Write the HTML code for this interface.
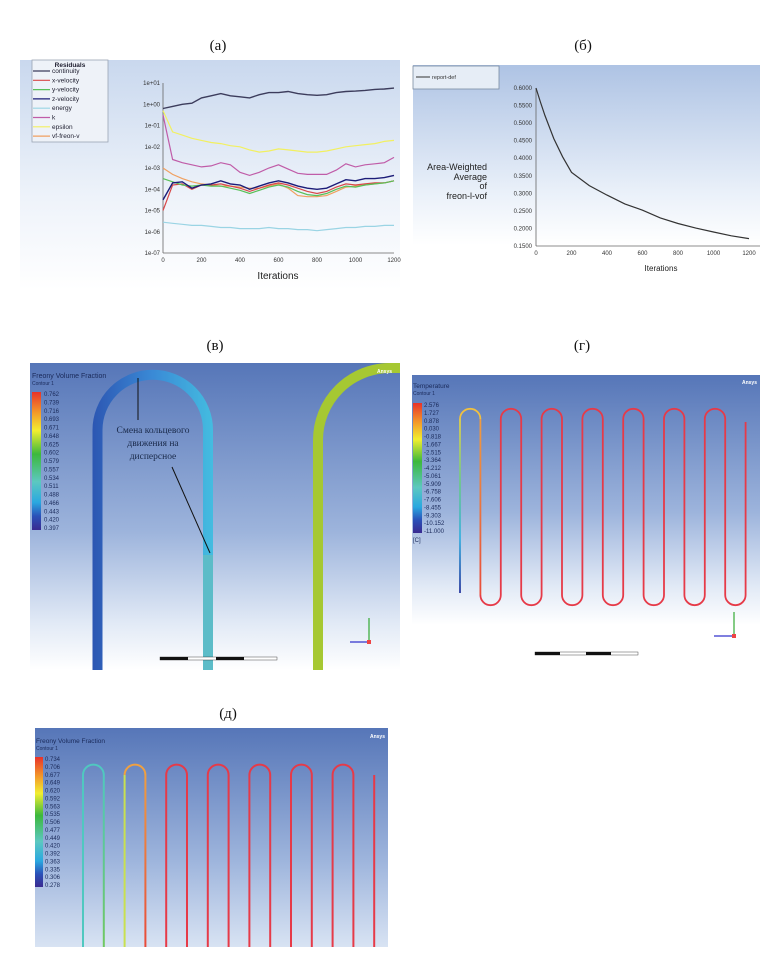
<!DOCTYPE html>
<html><head><meta charset="utf-8">
<style>
html,body{margin:0;padding:0;background:#fff;}
svg{display:block;font-family:"Liberation Sans",sans-serif;}
.cap{font-family:"Liberation Serif","DejaVu Serif",serif;font-size:15px;fill:#111;}
.t{font-size:6.5px;fill:#223;}
.tk{font-size:6px;fill:#333;}
</style></head>
<body>
<svg id="fig" width="781" height="954" viewBox="0 0 781 954" xmlns="http://www.w3.org/2000/svg">
<defs>
<linearGradient id="bgA" x1="0" y1="0" x2="0" y2="1"><stop offset="0" stop-color="#c9d8ee"/><stop offset="0.6" stop-color="#eef3fa"/><stop offset="1" stop-color="#ffffff"/></linearGradient>
<linearGradient id="bgB" x1="0" y1="0" x2="0" y2="1"><stop offset="0" stop-color="#aec3e4"/><stop offset="0.7" stop-color="#e9f0f9"/><stop offset="1" stop-color="#ffffff"/></linearGradient>
<linearGradient id="bgC" x1="0" y1="0" x2="0" y2="1"><stop offset="0" stop-color="#5676b8"/><stop offset="0.55" stop-color="#9db4dc"/><stop offset="0.85" stop-color="#e2eaf6"/><stop offset="1" stop-color="#ffffff"/></linearGradient>
<linearGradient id="bgE" x1="0" y1="0" x2="0" y2="1"><stop offset="0" stop-color="#5676b8"/><stop offset="0.6" stop-color="#9db4dc"/><stop offset="1" stop-color="#d8e3f3"/></linearGradient>
<linearGradient id="cbar" x1="0" y1="0" x2="0" y2="1"><stop offset="0" stop-color="#e8322a"/><stop offset="0.15" stop-color="#f39a2a"/><stop offset="0.28" stop-color="#f2ee30"/><stop offset="0.45" stop-color="#3cb83c"/><stop offset="0.65" stop-color="#5cc8c0"/><stop offset="0.8" stop-color="#2aa8e0"/><stop offset="0.9" stop-color="#2a50b8"/><stop offset="1" stop-color="#3a2a90"/></linearGradient>
<linearGradient id="uGrad" gradientUnits="userSpaceOnUse" x1="92" y1="0" x2="214" y2="0"><stop offset="0" stop-color="#2c56b2"/><stop offset="0.5" stop-color="#3a8ad6"/><stop offset="1" stop-color="#44bde0"/></linearGradient>
<linearGradient id="leg1G" gradientUnits="userSpaceOnUse" x1="0" y1="593" x2="0" y2="410"><stop offset="0" stop-color="#2a3aa0"/><stop offset="0.3" stop-color="#3ab0e0"/><stop offset="0.6" stop-color="#6cc88c"/><stop offset="1" stop-color="#f0d040"/></linearGradient>
<linearGradient id="leg2G" gradientUnits="userSpaceOnUse" x1="0" y1="410" x2="0" y2="600"><stop offset="0" stop-color="#f0a040"/><stop offset="1" stop-color="#e84a3a"/></linearGradient>
<linearGradient id="d1R" gradientUnits="userSpaceOnUse" x1="0" y1="770" x2="0" y2="947"><stop offset="0" stop-color="#50c8c0"/><stop offset="1" stop-color="#70c860"/></linearGradient>
<linearGradient id="d2R" gradientUnits="userSpaceOnUse" x1="0" y1="770" x2="0" y2="947"><stop offset="0" stop-color="#f0a040"/><stop offset="1" stop-color="#e84a3a"/></linearGradient>
<clipPath id="clipC"><rect x="30" y="363" width="370" height="307"/></clipPath>
</defs>

<text class="cap" x="218" y="50" text-anchor="middle">(а)</text>
<text class="cap" x="583" y="50" text-anchor="middle">(б)</text>
<text class="cap" x="215" y="350" text-anchor="middle">(в)</text>
<text class="cap" x="582" y="350" text-anchor="middle">(г)</text>
<text class="cap" x="228" y="718" text-anchor="middle">(д)</text>

<g>
<rect x="20" y="60" width="380" height="230" fill="url(#bgA)"/>
<rect x="32" y="60" width="76" height="82" fill="#eef2f8" stroke="#9aa4b4" stroke-width="0.8"/>
<text x="70" y="67" text-anchor="middle" font-size="6.5" font-weight="bold" fill="#223">Residuals</text>
<g id="legA"></g>
<g id="axA"></g>
<g id="linesA"></g>
<text x="278" y="279" text-anchor="middle" font-size="10" fill="#222">Iterations</text>
</g>

<g>
<rect x="413" y="65" width="347" height="180" fill="url(#bgB)"/>
<rect x="413" y="66" width="86" height="23" fill="#e6edf6" stroke="#7a8aa0" stroke-width="0.8"/>
<line x1="416" y1="77" x2="430" y2="77" stroke="#333" stroke-width="1"/>
<text x="432" y="79" font-size="5.5" fill="#333">report-def</text>
<g font-size="9" fill="#222" text-anchor="end">
<text x="487" y="170">Area-Weighted</text><text x="487" y="180">Average</text><text x="487" y="189">of</text><text x="487" y="199">freon-l-vof</text>
</g>
<g id="axB"></g>
<path id="lineB" fill="none" stroke="#333" stroke-width="1.2"/>
<text x="661" y="271" text-anchor="middle" font-size="8" fill="#222">Iterations</text>
</g>

<g>
<rect x="30" y="363" width="370" height="307" fill="url(#bgC)"/>
<g clip-path="url(#clipC)">
<path d="M97.5 672 L97.5 430 A55.25 55.25 0 0 1 208 430 L208 672" fill="none" stroke="url(#uGrad)" stroke-width="10"/>
<line x1="208" y1="555" x2="208" y2="672" stroke="#5cbcc8" stroke-width="10"/>
<path d="M318 672 L318 440 A72 72 0 0 1 390 368 L402 368" fill="none" stroke="#a6c832" stroke-width="10"/>
</g>
<text x="32" y="378" font-size="7" fill="#1a2a5a">Freony Volume Fraction</text>
<text x="32" y="385" font-size="5" fill="#1a2a5a">Contour 1</text>
<rect x="32" y="392" width="9" height="138" fill="url(#cbar)"/>
<g id="cbV" font-size="6" fill="#1a2a5a"></g>
<text x="377" y="373" font-size="5" font-weight="bold" fill="#fff">Ansys</text>
<line x1="138" y1="378" x2="138" y2="420" stroke="#111" stroke-width="1"/>
<line x1="172" y1="467" x2="210" y2="553" stroke="#111" stroke-width="1"/>
<g font-family="Liberation Serif, serif" font-size="9.5" fill="#1a2a4a" text-anchor="middle">
<text x="153" y="433">Смена кольцевого</text><text x="153" y="446">движения на</text><text x="153" y="459">дисперсное</text>
</g>
<g>
<rect x="160" y="657" width="117" height="3" fill="#fff" stroke="#222" stroke-width="0.4"/>
<rect x="160" y="657" width="28" height="3" fill="#111"/><rect x="216" y="657" width="28" height="3" fill="#111"/>
</g>
<g>
<line x1="369" y1="642" x2="369" y2="618" stroke="#3a3" stroke-width="1.2"/>
<line x1="369" y1="642" x2="350" y2="642" stroke="#33c" stroke-width="1.2"/>
<rect x="367" y="640" width="4" height="4" fill="#e44"/>
</g>
</g>

<g>
<rect x="412" y="375" width="348" height="250" fill="url(#bgC)"/>
<text x="413" y="388" font-size="6.5" fill="#1a2a5a">Temperature</text>
<text x="413" y="395" font-size="5" fill="#1a2a5a">Contour 1</text>
<rect x="413" y="403" width="9" height="130" fill="url(#cbar)"/>
<g id="cbG" font-size="6" fill="#1a2a5a"></g>
<text x="413" y="542" font-size="6" fill="#1a2a5a">[C]</text>
<text x="757" y="384" font-size="5" font-weight="bold" fill="#fff" text-anchor="end">Ansys</text>
<g id="serpG"></g>
<g>
<rect x="535" y="652" width="103" height="3" fill="#fff" stroke="#222" stroke-width="0.4"/>
<rect x="535" y="652" width="25" height="3" fill="#111"/><rect x="586" y="652" width="25" height="3" fill="#111"/>
</g>
<g>
<line x1="734" y1="636" x2="734" y2="612" stroke="#3a3" stroke-width="1.2"/>
<line x1="734" y1="636" x2="714" y2="636" stroke="#33c" stroke-width="1.2"/>
<rect x="732" y="634" width="4" height="4" fill="#e44"/>
</g>
</g>

<g>
<rect x="35" y="728" width="353" height="219" fill="url(#bgE)"/>
<text x="36" y="743" font-size="6.5" fill="#1a2a5a">Freony Volume Fraction</text>
<text x="36" y="750" font-size="5" fill="#1a2a5a">Contour 1</text>
<rect x="35" y="757" width="8" height="130" fill="url(#cbar)"/>
<g id="cbD" font-size="6" fill="#1a2a5a"></g>
<text x="385" y="738" font-size="5" font-weight="bold" fill="#fff" text-anchor="end">Ansys</text>
<g id="serpD"></g>
</g>
</svg>

<script>
// ---- panel a data ----
var itersA = [0,50,100,150,200,250,300,350,400,450,500,550,600,650,700,750,800,850,900,950,1000,1050,1100,1150,1200];
var continuityLog = [-0.2,-0.1,0.0,0.05,0.3,0.4,0.5,0.4,0.35,0.3,0.45,0.55,0.55,0.6,0.5,0.45,0.42,0.45,0.55,0.6,0.62,0.65,0.7,0.72,0.76];
var xVelLog = [-5.0,-3.8,-3.75,-4.0,-3.8,-3.8,-3.75,-3.85,-3.95,-4.1,-3.95,-3.8,-3.7,-3.8,-3.95,-4.1,-4.2,-4.1,-3.9,-3.75,-3.8,-3.75,-3.7,-3.7,-3.6];
var yVelLog = [-3.5,-3.65,-3.8,-3.85,-3.8,-3.85,-3.85,-3.95,-4.05,-4.2,-4.05,-3.9,-3.8,-3.9,-4.1,-4.25,-4.3,-4.2,-4.0,-3.85,-3.9,-3.8,-3.75,-3.7,-3.6];
var zVelLog = [-4.5,-3.7,-3.65,-3.95,-3.8,-3.75,-3.6,-3.75,-3.8,-4.0,-3.85,-3.7,-3.6,-3.7,-3.85,-3.95,-4.0,-3.95,-3.75,-3.55,-3.6,-3.5,-3.5,-3.45,-3.35];
var energyLog = [-5.55,-5.6,-5.65,-5.7,-5.7,-5.75,-5.8,-5.8,-5.85,-5.85,-5.85,-5.8,-5.85,-5.85,-5.9,-5.9,-5.95,-5.9,-5.85,-5.8,-5.8,-5.75,-5.75,-5.7,-5.7];
var kLog = [-0.5,-2.6,-2.75,-2.85,-2.95,-2.9,-2.75,-2.85,-3.2,-3.35,-3.2,-3.0,-2.85,-3.05,-3.25,-3.3,-3.3,-3.3,-3.1,-2.8,-2.95,-2.85,-2.8,-2.75,-2.5];
var epsilonLog = [-0.3,-1.3,-1.45,-1.6,-1.7,-1.8,-1.85,-1.95,-2.0,-2.15,-2.25,-2.2,-2.1,-2.15,-2.2,-2.25,-2.25,-2.2,-2.1,-2.0,-1.95,-1.9,-1.85,-1.75,-1.7];
var vfFreonLog = [-3.0,-3.3,-3.5,-3.65,-3.75,-3.8,-3.85,-3.85,-3.9,-3.95,-3.95,-3.85,-3.75,-3.95,-4.3,-4.35,-4.35,-4.3,-4.1,-3.9,-3.85,-3.8,-3.75,-3.7,-3.6];
var seriesNamesA = ["continuity","x-velocity","y-velocity","z-velocity","energy","k","epsilon","vf-freon-v"];
var seriesColorsA = ["#3c3c5c","#d84848","#58c058","#1c1c78","#9ad4e4","#c05ca8","#f2f060","#f0a060"];
var yTicksA = ["1e+01","1e+00","1e-01","1e-02","1e-03","1e-04","1e-05","1e-06","1e-07"];
var xTicksA = [0,200,400,600,800,1000,1200];
// ---- panel b data ----
var itersB = [0,25,50,100,150,200,300,400,500,600,700,800,900,1000,1100,1200];
var vofB = [0.6,0.56,0.522,0.456,0.404,0.36,0.322,0.295,0.27,0.252,0.23,0.214,0.201,0.19,0.179,0.171];
var yTicksB = [0.6,0.55,0.5,0.45,0.4,0.35,0.3,0.25,0.2,0.15];
var xTicksB = [0,200,400,600,800,1000,1200];
// ---- colorbar labels ----
var cbLabelsV = ["0.762","0.739","0.716","0.693","0.671","0.648","0.625","0.602","0.579","0.557","0.534","0.511","0.488","0.466","0.443","0.420","0.397"];
var cbLabelsG = ["2.576","1.727","0.878","0.030","-0.818","-1.667","-2.515","-3.364","-4.212","-5.061","-5.909","-6.758","-7.606","-8.455","-9.303","-10.152","-11.000"];
var cbLabelsD = ["0.734","0.706","0.677","0.649","0.620","0.592","0.563","0.535","0.506","0.477","0.449","0.420","0.392","0.363","0.335","0.306","0.278"];

var NS="http://www.w3.org/2000/svg";
function mk(tag, attrs, parent){var e=document.createElementNS(NS,tag);for(var k in attrs)e.setAttribute(k,attrs[k]);parent.appendChild(e);return e;}

function xA(v){return 163+(v/1200)*231;}
function yA(l){return 83+(1-l)*21.25;}
var axA=document.getElementById('axA');
var ax=mk('line',{x1:163,y1:yA(1),x2:163,y2:yA(-7),stroke:'#666','stroke-width':0.8},axA);


var bx=mk('line',{x1:163,y1:yA(-7),x2:394,y2:yA(-7),stroke:'#666','stroke-width':0.8},axA);


yTicksA.forEach(function(t,i){
  var tx=mk('text',{x:160,y:yA(1-i)+2,'text-anchor':'end','class':'tk'},axA);tx.textContent=t;
  
  
});
xTicksA.forEach(function(t){
  var tx=mk('text',{x:xA(t),y:yA(-7)+9,'text-anchor':'middle','class':'tk'},axA);tx.textContent=t;
  
  
});
var seriesA=[continuityLog,xVelLog,yVelLog,zVelLog,energyLog,kLog,epsilonLog,vfFreonLog];
var order=[4,6,7,1,2,3,5,0];
var linesA=document.getElementById('linesA');
order.forEach(function(si){
  var d=seriesA[si].map(function(v,i){return (i?'L':'M')+xA(itersA[i]).toFixed(1)+' '+yA(v).toFixed(1);}).join(' ');
  var p=mk('path',{d:d,fill:'none',stroke:seriesColorsA[si],'stroke-width':(si==3||si==0)?1.4:1.2},linesA);
  
  
});
var legA=document.getElementById('legA');
seriesNamesA.forEach(function(n,i){
  var y=73+i*9.3;
  var l=mk('line',{x1:33,y1:y-2,x2:50,y2:y-2,stroke:seriesColorsA[i],'stroke-width':1.2},legA);
  
  
  var t=mk('text',{x:52,y:y,'class':'t'},legA);t.textContent=n;
  
  
});

function xB(v){return 536+(v/1200)*213;}
function yB(v){return 88+(0.6-v)/0.45*158;}
var axB=document.getElementById('axB');
var ay=mk('line',{x1:536,y1:yB(0.6),x2:536,y2:yB(0.15),stroke:'#666','stroke-width':0.8},axB);


var axb=mk('line',{x1:536,y1:yB(0.15),x2:760,y2:yB(0.15),stroke:'#666','stroke-width':0.8},axB);


yTicksB.forEach(function(t){
  var tx=mk('text',{x:532,y:yB(t)+2,'text-anchor':'end','class':'tk','font-size':5.5},axB);tx.textContent=t.toFixed(4);
  
  
});
xTicksB.forEach(function(t){
  var tx=mk('text',{x:xB(t),y:yB(0.15)+9,'text-anchor':'middle','class':'tk','font-size':5.5},axB);tx.textContent=t;
  
  
});
document.getElementById('lineB').setAttribute('d',vofB.map(function(v,i){return (i?'L':'M')+xB(itersB[i]).toFixed(1)+' '+yB(v).toFixed(1);}).join(' '));

function cbl(id,labels,x,y0,y1){
  var g=document.getElementById(id);
  labels.forEach(function(s,i){
    var t=mk('text',{x:x,y:y0+i*(y1-y0)/(labels.length-1)+2},g);t.textContent=s;
    
    
  });
}
cbl('cbV',cbLabelsV,44,394,528);
cbl('cbG',cbLabelsG,424,405,531);
cbl('cbD',cbLabelsD,45,759,885);

var sg=document.getElementById('serpG');
var x0=460, pitch=20.4, r=pitch/2, yt=419, yb=595, red='#e63a48';
var legs=14;
for(var k=0;k<legs;k++){
  var xl=x0+k*pitch, xr=xl+pitch;
  var col = k==0?'url(#leg1G)':(k==1?'url(#leg2G)':red);
  mk('line',{x1:xl,y1:(k==0?593:yb),x2:xl,y2:yt,stroke:col,'stroke-width':1.8},sg);
  if(k%2==0){
    mk('path',{d:'M'+xl+' '+yt+' A'+r+' '+r+' 0 0 1 '+xr+' '+yt,fill:'none',stroke:k==0?'#f0c040':red,'stroke-width':1.8},sg);
  } else {
    mk('path',{d:'M'+xl+' '+yb+' A'+r+' '+r+' 0 0 0 '+xr+' '+yb,fill:'none',stroke:red,'stroke-width':1.8},sg);
  }
}
mk('line',{x1:x0+legs*pitch,y1:yb,x2:x0+legs*pitch,y2:422,stroke:red,'stroke-width':1.8},sg);

var sd=document.getElementById('serpD');
var dx0=83, dp=20.8, dr=dp/2, dyt=775, dyb=947;
var uCols=[['#50c8c0','#50c8c0','url(#d1R)'],['#c8e050','#f0a040','url(#d2R)']];
for(var u=0;u<7;u++){
  var a=dx0+u*2*dp, b=a+dp;
  var c=u<2?uCols[u]:[red,red,red];
  mk('line',{x1:a,y1:dyb,x2:a,y2:dyt,stroke:c[0],'stroke-width':2},sd);
  mk('path',{d:'M'+a+' '+dyt+' A'+dr+' '+dr+' 0 0 1 '+b+' '+dyt,fill:'none',stroke:u<2?(u==0?'#50c8c0':'#f0a040'):red,'stroke-width':2},sd);
  mk('line',{x1:b,y1:dyt,x2:b,y2:dyb,stroke:c[2],'stroke-width':2},sd);
}
mk('line',{x1:dx0+14*dp,y1:dyb,x2:dx0+14*dp,y2:dyt,stroke:red,'stroke-width':2},sd);
</script>
</body></html>
